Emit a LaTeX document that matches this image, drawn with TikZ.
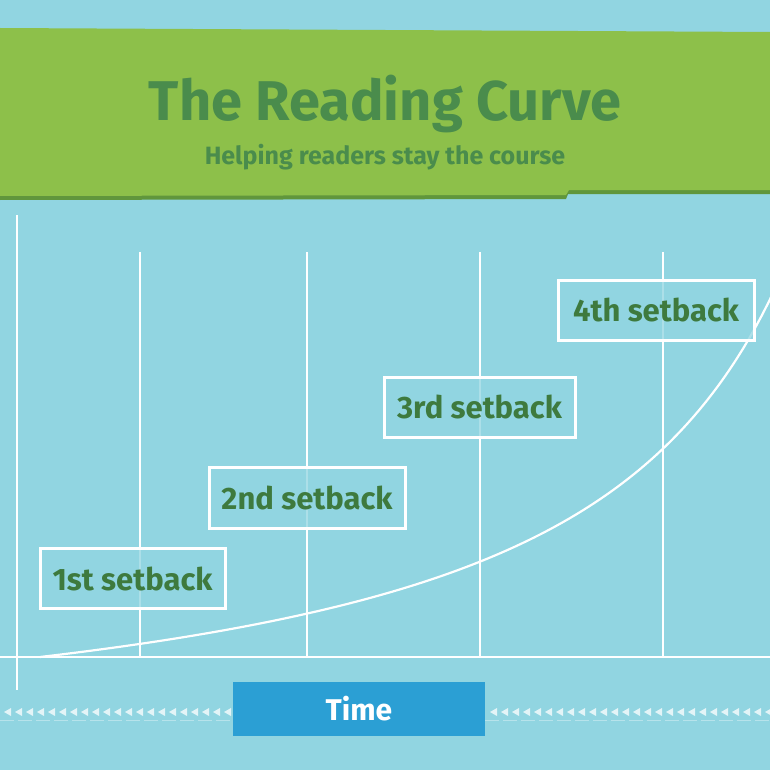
\documentclass[tikz,border=0pt]{standalone}
\usepackage{fontspec}
\setmainfont{Fira Sans}
\definecolor{bg}{RGB}{145,213,225}
\definecolor{banner}{RGB}{141,192,74}
\definecolor{bannershade}{RGB}{96,150,60}
\definecolor{titlegreen}{RGB}{74,140,76}
\definecolor{labelgreen}{RGB}{62,122,62}
\definecolor{timeblue}{RGB}{43,159,212}
\tikzset{
  chalk/.style={draw=white, line width=2.6pt},
  sbox/.style={draw=white, line width=3pt, fill=bg, fill opacity=0.75, text opacity=1,
    text=labelgreen, font=\fontsize{31}{36}\selectfont\bfseries, inner sep=0pt},
  timebox/.style={fill=timeblue, text=white, font=\fontsize{30}{36}\selectfont\bfseries, inner sep=0pt},
  arrowmark/.style={fill=white, fill opacity=0.75}
}
\begin{document}
\begin{tikzpicture}[x=1pt,y=-1pt]
\useasboundingbox (0,0) rectangle (770,770);
\fill[bg] (0,0) rectangle (770,770);
% banner
\fill[bannershade] (0,31) -- (770,35) -- (770,194) -- (568,194) -- (566,199) -- (0,200) -- cycle;
\fill[banner] (0,28) -- (770,32) -- (770,190) -- (569,190) -- (566,195) -- (0,196) -- cycle;
\node[text=titlegreen, font=\fontsize{56}{60}\selectfont\bfseries] (title) at (385,104) {The Reading Curve};
\node[text=titlegreen, font=\fontsize{25}{28}\selectfont\bfseries] (subtitle) at (385,157) {Helping readers stay the course};
% grid
\coordinate (a0) at (17,215); \coordinate (b0) at (17,690);
\draw[chalk] (a0) -- (b0);
\foreach \x in {140,307,480,663} {
  \draw[chalk] (\x,252) -- (\x,657);
}
\coordinate (axl) at (0,657); \coordinate (axr) at (770,657);
\draw[chalk] (axl) -- (axr);
% curve
\draw[white, line width=2.2pt, line cap=round] plot[domain=40:774, samples=120, variable=\t]
  ({\t}, {657 - 108.2*(1000/(1000-\t) - 1000/960)});
% boxes
\node[sbox, minimum width=185, minimum height=60] (s1) at (132.5,578.5) {1st setback};
\node[sbox, minimum width=196, minimum height=61] (s2) at (307,497.5) {2nd setback};
\node[sbox, minimum width=191, minimum height=60] (s3) at (479.5,407) {3rd setback};
\node[sbox, minimum width=196, minimum height=60] (s4) at (656,310) {4th setback};
% time axis marks
\foreach \x in {4,15,...,226} {
  \fill[arrowmark] (\x,712) -- (\x+7,708) -- (\x+7,716) -- cycle;
}
\foreach \x in {490,501,...,765} {
  \fill[arrowmark] (\x,712) -- (\x+7,708) -- (\x+7,716) -- cycle;
}
\draw[white, opacity=0.35, line width=1pt, dash pattern=on 14pt off 4pt] (0,720) -- (233,720);
\draw[white, opacity=0.35, line width=1pt, dash pattern=on 14pt off 4pt] (485,720) -- (770,720);
\node[timebox, minimum width=252, minimum height=54] (time) at (359,709) {Time};
\end{tikzpicture}
\end{document}
